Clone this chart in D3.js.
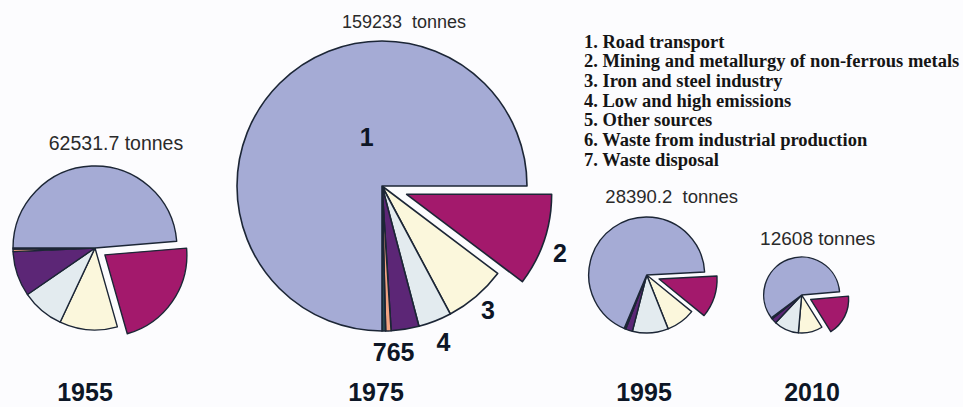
<!DOCTYPE html>
<html>
<head>
<meta charset="utf-8">
<script src="https://cdn.jsdelivr.net/npm/d3@7"></script>
<style>
  html, body { margin: 0; padding: 0; background: #fcfcfe; }
  svg { display: block; }
  text { white-space: pre; }
</style>
</head>
<body>
<svg id="chart" width="963" height="407"></svg>
<script>
// ---------------- DATA ----------------
const categories = [
  "Road transport",
  "Mining and metallurgy of non-ferrous metals",
  "Iron and steel industry",
  "Low and high emissions",
  "Other sources",
  "Waste from industrial production",
  "Waste disposal"
];
const years = ["1955", "1975", "1995", "2010"];
const totals = [62531.7, 159233, 28390.2, 12608];
const totalLabels = ["62531.7 tonnes", "159233  tonnes", "28390.2  tonnes", "12608 tonnes"];
// shares of each source, %
const share1955 = [48.7, 21.9, 11.4, 8.4, 8.9, 0.5, 0.2];
const share1975 = [75.0, 10.3, 6.9, 3.7, 3.1, 0.6, 0.4];
const share1995 = [67.8, 11.7, 8.1, 10.0, 1.9, 0.3, 0.2];
const share2010 = [58.9, 17.5, 10.3, 10.6, 2.2, 0.3, 0.2];
const shares = [share1955, share1975, share1995, share2010];
const sliceLabels1975 = ["1", "2", "3", "4", "765"];

// ---------------- LAYOUT / STYLE ----------------
const colors = ["#a5abd5", "#a3196c", "#fbf7dc", "#e3ebef", "#5c2676", "#f3a482", "#284a52"];
const stroke = "#1c2636";
const pies = [
  { cx: 95,    cy: 248,   r: 82,  start: 85.3, explode: 12, labelDx: 21, labelDy: -16, labelSize: 19.5, yearX: 85 },
  { cx: 382,   cy: 186,   r: 145, start: 90,   explode: 26, labelDx: 22, labelDy: -13, labelSize: 18,   yearX: 376 },
  { cx: 646.7, cy: 275,   r: 58,  start: 87,   explode: 13, labelDx: 25, labelDy: -14, labelSize: 18.5, yearX: 644 },
  { cx: 801.7, cy: 295,   r: 38,  start: 85,   explode: 10, labelDx: 16, labelDy: -12, labelSize: 19,   yearX: 812 }
];
const rad = Math.PI / 180;

const svg = d3.select("#chart");
svg.append("rect").attr("width", 963).attr("height", 407).attr("fill", "#fcfcfe");

// slices drawn clockwise starting with source 2, road transport last
const order = [1, 2, 3, 4, 5, 6, 0];

pies.forEach((p, pi) => {
  const data = order.map(k => ({ k, v: shares[pi][k] }));
  const pie = d3.pie().sort(null).value(d => d.v)
    .startAngle(p.start * rad).endAngle(p.start * rad + 2 * Math.PI);
  const arcs = pie(data);
  const arc = d3.arc().innerRadius(0).outerRadius(p.r);
  const g = svg.append("g").attr("transform", `translate(${p.cx},${p.cy})`);

  g.selectAll("path").data(arcs).join("path")
    .attr("d", arc)
    .attr("fill", d => colors[d.data.k])
    .attr("stroke", stroke)
    .attr("stroke-width", p.r > 100 ? 1.6 : 1.4)
    .attr("stroke-linejoin", "round")
    .attr("transform", d => {
      if (d.data.k !== 1) return null;
      const m = (d.startAngle + d.endAngle) / 2;
      return `translate(${Math.sin(m) * p.explode},${-Math.cos(m) * p.explode})`;
    });

  // total label
  svg.append("text")
    .attr("x", p.cx + p.labelDx)
    .attr("y", p.cy - p.r + p.labelDy)
    .attr("text-anchor", "middle")
    .attr("font-family", "Liberation Sans, Arial, sans-serif")
    .attr("font-size", p.labelSize)
    .attr("fill", "#2a2a2a")
    .text(totalLabels[pi]);

  // year label
  svg.append("text")
    .attr("x", p.yearX)
    .attr("y", 401)
    .attr("text-anchor", "middle")
    .attr("font-family", "Liberation Sans, Arial, sans-serif")
    .attr("font-weight", "bold")
    .attr("font-size", 25)
    .attr("fill", "#0d1626")
    .text(years[pi]);

  if (pi === 1) {
    const byK = {};
    arcs.forEach(a => byK[a.data.k] = a);
    const mid = a => (a.startAngle + a.endAngle) / 2;
    // label placement: [text, angle (rad), distance from centre]
    const place = [
      [sliceLabels1975[0], mid(byK[0]) + 27.5 * rad, 51],
      [sliceLabels1975[1], mid(byK[1]) + 2 * rad, p.r + 45],
      [sliceLabels1975[2], mid(byK[2]), p.r + 18],
      [sliceLabels1975[3], mid(byK[3]), p.r + 23],
      [sliceLabels1975[4], mid(byK[5]) - 1.5 * rad, p.r + 21]
    ];
    g.selectAll("text.sl").data(place).join("text")
      .attr("class", "sl")
      .attr("x", d => Math.sin(d[1]) * d[2])
      .attr("y", d => -Math.cos(d[1]) * d[2])
      .attr("dy", "0.36em")
      .attr("text-anchor", "middle")
      .attr("font-family", "Liberation Sans, Arial, sans-serif")
      .attr("font-weight", "bold")
      .attr("font-size", 25)
      .attr("fill", "#0d1626")
      .text(d => d[0]);
  }
});

// legend
svg.append("g").selectAll("text").data(categories).join("text")
  .attr("x", 584)
  .attr("y", (d, i) => 47.5 + i * 19.7)
  .attr("font-family", "Liberation Serif, 'Times New Roman', serif")
  .attr("font-weight", "bold")
  .attr("font-size", 18.5)
  .attr("fill", "#151515")
  .text((d, i) => `${i + 1}. ${d}`);
</script>
</body>
</html>
